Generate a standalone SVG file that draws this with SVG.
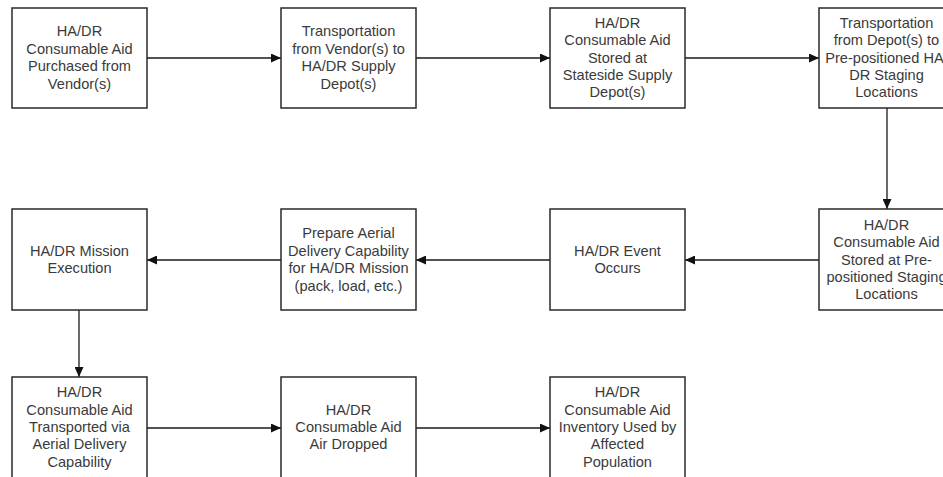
<svg xmlns="http://www.w3.org/2000/svg" width="943" height="477" viewBox="0 0 943 477">
<style>
.box{fill:#fff;stroke:#2a2a2a;stroke-width:1.5}
.t{font-family:"Liberation Sans",Arial,sans-serif;font-size:14.6px;fill:#3a3a3a;text-anchor:middle}
.c{stroke:#1a1a1a;stroke-width:1.3;fill:none;marker-end:url(#ah)}
</style>
<defs>
<marker id="ah" markerUnits="userSpaceOnUse" markerWidth="11" markerHeight="9" refX="10" refY="4.5" orient="auto">
<path d="M0,0 L10,4.5 L0,9 z" fill="#111"/>
</marker>
</defs>
<rect width="943" height="477" fill="#fff"/>
<g id="connectors">
<line class="c" x1="147" y1="58" x2="281" y2="58"/>
<line class="c" x1="416" y1="58" x2="550" y2="58"/>
<line class="c" x1="685" y1="58" x2="819" y2="58"/>
<line class="c" x1="887" y1="108" x2="887" y2="209"/>
<line class="c" x1="819" y1="260" x2="685" y2="260"/>
<line class="c" x1="550" y1="260" x2="416" y2="260"/>
<line class="c" x1="281" y1="260" x2="147" y2="260"/>
<line class="c" x1="79" y1="310" x2="79" y2="377"/>
<line class="c" x1="147" y1="428" x2="281" y2="428"/>
<line class="c" x1="416" y1="428" x2="550" y2="428"/>
</g>
<g id="n1">
<rect class="box" x="12" y="8" width="135" height="100"/>
<text class="t"><tspan x="79.5" y="36.4">HA/DR</tspan><tspan x="79.5" y="53.8">Consumable Aid</tspan><tspan x="79.5" y="71.2">Purchased from</tspan><tspan x="79.5" y="88.6">Vendor(s)</tspan></text>
</g>
<g id="n2">
<rect class="box" x="281" y="8" width="135" height="100"/>
<text class="t"><tspan x="348.5" y="36.4">Transportation</tspan><tspan x="348.5" y="53.8">from Vendor(s) to</tspan><tspan x="348.5" y="71.2">HA/DR Supply</tspan><tspan x="348.5" y="88.6">Depot(s)</tspan></text>
</g>
<g id="n3">
<rect class="box" x="550" y="8" width="135" height="100"/>
<text class="t"><tspan x="617.5" y="27.7">HA/DR</tspan><tspan x="617.5" y="45.1">Consumable Aid</tspan><tspan x="617.5" y="62.5">Stored at</tspan><tspan x="617.5" y="79.9">Stateside Supply</tspan><tspan x="617.5" y="97.3">Depot(s)</tspan></text>
</g>
<g id="n4">
<rect class="box" x="819" y="8" width="135" height="100"/>
<text class="t"><tspan x="886.5" y="27.7">Transportation</tspan><tspan x="886.5" y="45.1">from Depot(s) to</tspan><tspan x="886.5" y="62.5">Pre-positioned HA/</tspan><tspan x="886.5" y="79.9">DR Staging</tspan><tspan x="886.5" y="97.3">Locations</tspan></text>
</g>
<g id="n5">
<rect class="box" x="819" y="209" width="135" height="101"/>
<text class="t"><tspan x="886.5" y="229.7">HA/DR</tspan><tspan x="886.5" y="247.1">Consumable Aid</tspan><tspan x="886.5" y="264.5">Stored at Pre-</tspan><tspan x="886.5" y="281.9">positioned Staging</tspan><tspan x="886.5" y="299.3">Locations</tspan></text>
</g>
<g id="n6">
<rect class="box" x="550" y="209" width="135" height="101"/>
<text class="t"><tspan x="617.5" y="255.8">HA/DR Event</tspan><tspan x="617.5" y="273.2">Occurs</tspan></text>
</g>
<g id="n7">
<rect class="box" x="281" y="209" width="135" height="101"/>
<text class="t"><tspan x="348.5" y="238.4">Prepare Aerial</tspan><tspan x="348.5" y="255.8">Delivery Capability</tspan><tspan x="348.5" y="273.2">for HA/DR Mission</tspan><tspan x="348.5" y="290.6">(pack, load, etc.)</tspan></text>
</g>
<g id="n8">
<rect class="box" x="12" y="209" width="135" height="101"/>
<text class="t"><tspan x="79.5" y="255.8">HA/DR Mission</tspan><tspan x="79.5" y="273.2">Execution</tspan></text>
</g>
<g id="n9">
<rect class="box" x="12" y="377" width="135" height="101"/>
<text class="t"><tspan x="79.5" y="397.2">HA/DR</tspan><tspan x="79.5" y="414.6">Consumable Aid</tspan><tspan x="79.5" y="432">Transported via</tspan><tspan x="79.5" y="449.4">Aerial Delivery</tspan><tspan x="79.5" y="466.8">Capability</tspan></text>
</g>
<g id="n10">
<rect class="box" x="281" y="377" width="135" height="101"/>
<text class="t"><tspan x="348.5" y="414.6">HA/DR</tspan><tspan x="348.5" y="432">Consumable Aid</tspan><tspan x="348.5" y="449.4">Air Dropped</tspan></text>
</g>
<g id="n11">
<rect class="box" x="550" y="377" width="135" height="101"/>
<text class="t"><tspan x="617.5" y="397.2">HA/DR</tspan><tspan x="617.5" y="414.6">Consumable Aid</tspan><tspan x="617.5" y="432">Inventory Used by</tspan><tspan x="617.5" y="449.4">Affected</tspan><tspan x="617.5" y="466.8">Population</tspan></text>
</g>
</svg>
